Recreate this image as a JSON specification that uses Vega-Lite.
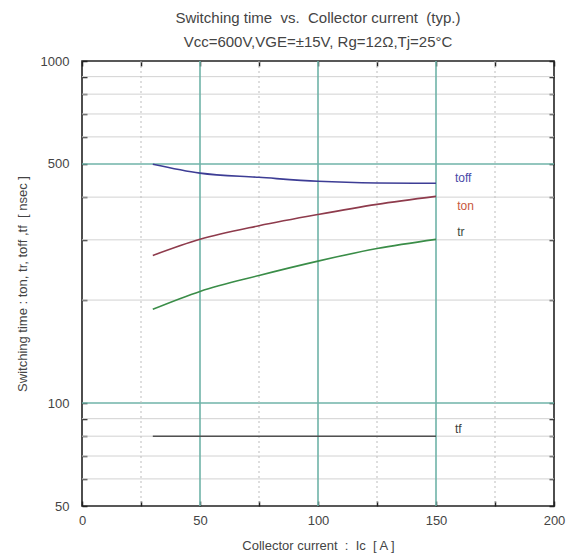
{
  "$schema": "https://vega.github.io/schema/vega-lite/v6.json",
  "width": 472,
  "height": 445,
  "autosize": {"type": "none"},
  "padding": {"left": 82, "top": 61, "right": 14, "bottom": 54},
  "background": "white",
  "title": {
    "text": ["Switching time \u00a0vs. \u00a0Collector current \u00a0(typ.)", "Vcc=600V,VGE=±15V, Rg=12Ω,Tj=25°C"],
    "font": "Liberation Sans",
    "fontSize": 15,
    "fontWeight": "normal",
    "color": "#444",
    "lineHeight": 24,
    "anchor": "middle",
    "offset": 5
  },
  "config": {
    "view": {"stroke": "#222", "strokeWidth": 1.6},
    "axis": {
      "labelFont": "Liberation Sans",
      "titleFont": "Liberation Sans",
      "labelFontSize": 13,
      "titleFontSize": 13,
      "titleFontWeight": "normal",
      "labelColor": "#444",
      "titleColor": "#444",
      "domain": false,
      "grid": false,
      "tickColor": "#222",
      "tickWidth": 1.5
    }
  },
  "datasets": {
    "curves": [
      {"series": "toff", "ic": 30, "t": 499},
      {"series": "toff", "ic": 50, "t": 470},
      {"series": "toff", "ic": 75, "t": 457},
      {"series": "toff", "ic": 100, "t": 445},
      {"series": "toff", "ic": 125, "t": 440},
      {"series": "toff", "ic": 150, "t": 439},
      {"series": "ton", "ic": 30, "t": 270},
      {"series": "ton", "ic": 50, "t": 301},
      {"series": "ton", "ic": 75, "t": 330},
      {"series": "ton", "ic": 100, "t": 356},
      {"series": "ton", "ic": 125, "t": 381},
      {"series": "ton", "ic": 150, "t": 402},
      {"series": "tr", "ic": 30, "t": 188},
      {"series": "tr", "ic": 50, "t": 212},
      {"series": "tr", "ic": 75, "t": 236},
      {"series": "tr", "ic": 100, "t": 260},
      {"series": "tr", "ic": 125, "t": 283},
      {"series": "tr", "ic": 150, "t": 301},
      {"series": "tf", "ic": 30, "t": 80},
      {"series": "tf", "ic": 150, "t": 80}
    ],
    "labels": [
      {"series": "toff", "ic": 158, "t": 454},
      {"series": "ton", "ic": 159, "t": 378},
      {"series": "tr", "ic": 159, "t": 316},
      {"series": "tf", "ic": 158, "t": 84}
    ],
    "minorY": [{"v": 60}, {"v": 70}, {"v": 80}, {"v": 90}, {"v": 200}, {"v": 300}, {"v": 400}, {"v": 600}, {"v": 700}, {"v": 800}, {"v": 900}],
    "majorY": [{"v": 100}, {"v": 500}],
    "minorX": [{"v": 25}, {"v": 75}, {"v": 125}, {"v": 175}],
    "majorX": [{"v": 50}, {"v": 100}, {"v": 150}]
  },
  "resolve": {
    "axis": {"x": "independent", "y": "independent"},
    "scale": {"color": "independent"}
  },
  "layer": [
    {
      "data": {"name": "minorY"},
      "mark": {"type": "rule", "color": "#d2d2d2", "strokeWidth": 1},
      "encoding": {
        "y": {
          "field": "v", "type": "quantitative",
          "scale": {"type": "log", "domain": [50, 1000], "nice": false},
          "axis": {
            "orient": "left",
            "values": [50, 60, 70, 80, 90, 100, 200, 300, 400, 500, 600, 700, 800, 900, 1000],
            "labelExpr": "indexof([50,100,500,1000], datum.value) >= 0 ? '' + datum.value : ''",
            "tickSize": -5,
            "labelPadding": 18,
            "title": "Switching time : ton, tr, toff ,tf \u00a0[ nsec ]",
            "titlePadding": 11
          }
        }
      }
    },
    {
      "data": {"name": "majorY"},
      "mark": {"type": "rule", "color": "#6fb3a8", "strokeWidth": 1.6},
      "encoding": {
        "y": {
          "field": "v", "type": "quantitative",
          "axis": {
            "orient": "right",
            "values": [50, 60, 70, 80, 90, 100, 200, 300, 400, 500, 600, 700, 800, 900, 1000],
            "labels": false,
            "tickSize": -5,
            "title": null
          }
        }
      }
    },
    {
      "data": {"name": "minorX"},
      "mark": {"type": "rule", "color": "#bdbdbd", "strokeWidth": 1, "strokeDash": [2, 3]},
      "encoding": {
        "x": {
          "field": "v", "type": "quantitative",
          "scale": {"domain": [0, 200], "nice": false},
          "axis": {
            "orient": "bottom",
            "values": [0, 25, 50, 75, 100, 125, 150, 175, 200],
            "labelExpr": "datum.value % 50 == 0 ? datum.label : ''",
            "tickSize": -5,
            "labelPadding": 13,
            "labelFlush": false,
            "title": "Collector current \u00a0: \u00a0Ic \u00a0[ A ]",
            "titlePadding": 12
          }
        }
      }
    },
    {
      "data": {"name": "majorX"},
      "mark": {"type": "rule", "color": "#6fb3a8", "strokeWidth": 1.6},
      "encoding": {
        "x": {
          "field": "v", "type": "quantitative",
          "axis": {
            "orient": "top",
            "values": [0, 25, 50, 75, 100, 125, 150, 175, 200],
            "labels": false,
            "tickSize": -5,
            "title": null
          }
        }
      }
    },
    {
      "data": {"name": "curves"},
      "mark": {"type": "line", "interpolate": "monotone", "strokeWidth": 1.6},
      "encoding": {
        "x": {"field": "ic", "type": "quantitative", "axis": null},
        "y": {"field": "t", "type": "quantitative", "axis": null},
        "color": {
          "field": "series", "type": "nominal",
          "scale": {"domain": ["toff", "ton", "tr", "tf"], "range": ["#3d3d95", "#8e3b4c", "#3a8d48", "#505050"]},
          "legend": null
        }
      }
    },
    {
      "data": {"name": "labels"},
      "mark": {"type": "text", "align": "left", "baseline": "middle", "font": "Liberation Sans", "fontSize": 12},
      "encoding": {
        "x": {"field": "ic", "type": "quantitative", "axis": null},
        "y": {"field": "t", "type": "quantitative", "axis": null},
        "text": {"field": "series"},
        "color": {
          "field": "series", "type": "nominal",
          "scale": {"domain": ["toff", "ton", "tr", "tf"], "range": ["#4a4aa8", "#c8583c", "#3c4a3c", "#404040"]},
          "legend": null
        }
      }
    }
  ]
}
